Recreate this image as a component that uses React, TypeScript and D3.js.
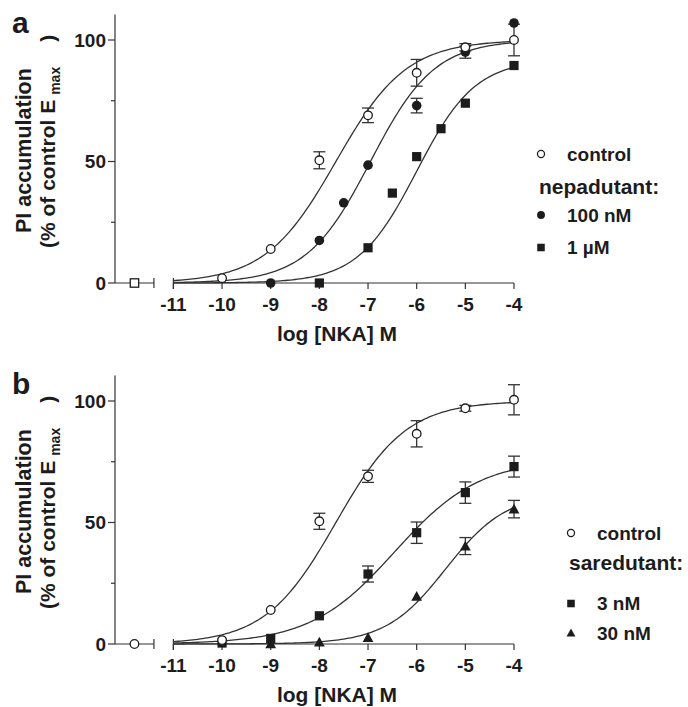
import React from "react";
import * as d3 from "d3";

const W = 688;
const H = 707;
const FONT = "'Liberation Sans', Arial, Helvetica, sans-serif";
const INK = "#1c1c1c";
const LINE = "#333";

// log [NKA] M
const doses = [-10, -9, -8, -7, -6, -5, -4];
const xTicks = [-11, -10, -9, -8, -7, -6, -5, -4];
const yTicks = [0, 50, 100];
const yMinorTicks = [25, 75];

// panel a : nepadutant
const controlA = [2, 14, 50.5, 69, 86.5, 97, 100];
const controlAErr = [0, 0, 3.5, 3, 5.5, 1.5, 6.5];
const nep100Doses = [-9, -8, -7.5, -7, -6, -5, -4];
const nep100 = [0, 17.5, 33, 48.5, 73, 95, 107];
const nep100Err = [0, 0, 0, 0, 3, 2.5, 0];
const nep1uDoses = [-8, -7, -6.5, -6, -5.5, -5, -4];
const nep1u = [0, 14.5, 37, 52, 63.5, 74, 89.5];

// panel b : saredutant
const controlB = [1.6, 14, 50.5, 69, 86.5, 97, 100.5];
const controlBErr = [0, 0, 3.3, 2.5, 5.4, 1.2, 6.2];
const sare3 = [0.4, 2.3, 11.6, 28.8, 45.8, 62.3, 73];
const sare3Err = [0, 0, 0, 3.3, 4.4, 4.4, 4.3];
const sare30Doses = [-9, -8, -7, -6, -5, -4];
const sare30 = [0, 0.8, 2.6, 19.6, 40.3, 55.5];
const sare30Err = [0, 0, 0, 0, 3.5, 3.6];

// basal (no NKA) response
const basal = 0;

// fitted curves [top, logEC50, hill]
const fitControl = [100, -7.66, 0.6];
const fitNep100 = [100, -6.95, 0.66];
const fitNep1u = [92, -6.0, 0.72];
const fitSare3 = [76, -6.45, 0.5];
const fitSare30 = [62, -5.4, 0.7];

// x positions (in log units) of the basal point and axis break
const basalX = -11.8;
const breakX = [-11.4, -11];

const x = d3.scaleLinear().domain([-12.2, -4]).range([115, 514]);
const y = d3.scaleLinear().domain([0, 100]).range([283, 40]);
const yTop = 110.5;

const hill = (p: number[]) => (lx: number) =>
  p[0] / (1 + Math.pow(10, (p[1] - lx) * p[2]));

const curveX = d3.range(-11, -3.99, 0.05);
const line = d3
  .line<number[]>()
  .x((d) => x(d[0]))
  .y((d) => y(d[1]));

type Shape = "openCircle" | "circle" | "square" | "openSquare" | "triangle";

const Marker = ({ shape, cx, cy, s = 1 }: { shape: Shape; cx: number; cy: number; s?: number }) => {
  if (shape === "openCircle")
    return <circle cx={cx} cy={cy} r={4.3 * s} fill="#fff" stroke={INK} strokeWidth={1.3} />;
  if (shape === "circle") return <circle cx={cx} cy={cy} r={4.8 * s} fill={INK} />;
  if (shape === "square") {
    const h = 4.6 * s;
    return <rect x={cx - h} y={cy - h} width={2 * h} height={2 * h} fill={INK} />;
  }
  if (shape === "openSquare") {
    const h = 4.2 * s;
    return <rect x={cx - h} y={cy - h} width={2 * h} height={2 * h} fill="#fff" stroke={INK} strokeWidth={1.3} />;
  }
  const h = 5.4 * s;
  return <path d={`M${cx},${cy - h}L${cx + h},${cy + h * 0.8}L${cx - h},${cy + h * 0.8}Z`} fill={INK} />;
};

type Series = { xs: number[]; ys: number[]; err?: number[]; shape: Shape; fit: number[] };
type LegendItem = { label: string; shape?: Shape };

const Panel = ({
  dy,
  letter,
  series,
  basalShape,
  legend,
  legendX,
  legendY,
}: {
  dy: number;
  letter: string;
  series: Series[];
  basalShape: Shape;
  legend: LegendItem[];
  legendX: number;
  legendY: number[];
}) => (
  <g transform={`translate(0,${dy})`} fontFamily={FONT} fill={INK}>
    <text x={12} y={33} fontSize={30} fontWeight="bold">
      {letter}
    </text>
    {/* y axis */}
    <line x1={x(-12.2)} x2={x(-12.2)} y1={y(0)} y2={y(yTop)} stroke={LINE} strokeWidth={1.2} />
    {yTicks.map((t) => (
      <g key={t}>
        <line x1={x(-12.2) - 7} x2={x(-12.2)} y1={y(t)} y2={y(t)} stroke={LINE} strokeWidth={1.2} />
        <text x={x(-12.2) - 9} y={y(t)} dy="0.36em" textAnchor="end" fontSize={19} fontWeight="bold">
          {t}
        </text>
      </g>
    ))}
    {yMinorTicks.map((t) => (
      <line key={t} x1={x(-12.2) - 4} x2={x(-12.2)} y1={y(t)} y2={y(t)} stroke={LINE} strokeWidth={1.2} />
    ))}
    <text transform="translate(23,233) rotate(-90)" dy="0.36em" fontSize={21.5} fontWeight="bold">
      PI accumulation
    </text>
    <text transform="translate(47,248) rotate(-90)" dy="0.36em" fontSize={21} fontWeight="bold">
      (% of control E
      <tspan fontSize={14} dx={5} dy={5}>
        max
      </tspan>
      <tspan dx={25} dy={-5}>
        )
      </tspan>
    </text>
    {/* x axis with break */}
    <line x1={x(-12.2)} x2={x(breakX[0])} y1={y(0)} y2={y(0)} stroke={LINE} strokeWidth={1.2} />
    <line x1={x(breakX[0])} x2={x(breakX[0])} y1={y(0) - 5} y2={y(0) + 5} stroke={LINE} strokeWidth={1.2} />
    <line x1={x(breakX[1])} x2={x(-4)} y1={y(0)} y2={y(0)} stroke={LINE} strokeWidth={1.2} />
    <line x1={x(breakX[1])} x2={x(breakX[1])} y1={y(0) - 5} y2={y(0) + 6} stroke={LINE} strokeWidth={1.2} />
    {xTicks.map((t) => (
      <g key={t}>
        <line x1={x(t)} x2={x(t)} y1={y(0)} y2={y(0) + 6} stroke={LINE} strokeWidth={1.2} />
        <text x={x(t)} y={y(0) + 14} dy="0.72em" textAnchor="middle" fontSize={19} fontWeight="bold">
          {t}
        </text>
      </g>
    ))}
    <text x={337} y={333} dy="0.36em" textAnchor="middle" fontSize={21} fontWeight="bold">
      log [NKA] M
    </text>
    {/* fitted curves */}
    {series.map((s, i) => (
      <path
        key={"c" + i}
        d={line(curveX.map((lx) => [lx, hill(s.fit)(lx)])) || ""}
        fill="none"
        stroke={LINE}
        strokeWidth={1.3}
      />
    ))}
    {/* error bars */}
    {series.map((s, i) =>
      s.xs.map((lx, j) => {
        const e = s.err ? s.err[j] : 0;
        if (!e) return null;
        const cx = x(lx);
        return (
          <g key={`e${i}-${j}`} stroke={LINE} strokeWidth={1.3}>
            <line x1={cx} x2={cx} y1={y(s.ys[j] - e)} y2={y(s.ys[j] + e)} />
            <line x1={cx - 6} x2={cx + 6} y1={y(s.ys[j] - e)} y2={y(s.ys[j] - e)} />
            <line x1={cx - 6} x2={cx + 6} y1={y(s.ys[j] + e)} y2={y(s.ys[j] + e)} />
          </g>
        );
      })
    )}
    {/* points */}
    {series
      .slice()
      .reverse()
      .map((s, i) =>
        s.xs.map((lx, j) => <Marker key={`p${i}-${j}`} shape={s.shape} cx={x(lx)} cy={y(s.ys[j])} />)
      )}
    <Marker shape={basalShape} cx={x(basalX)} cy={y(basal)} />
    {/* legend */}
    {legend.map((it, i) =>
      it.shape ? (
        <g key={it.label}>
          <Marker shape={it.shape} cx={legendX + 2} cy={legendY[i]} s={0.82} />
          <text x={legendX + 28} y={legendY[i]} dy="0.36em" fontSize={19} fontWeight="bold">
            {it.label}
          </text>
        </g>
      ) : (
        <text key={it.label} x={legendX} y={legendY[i]} dy="0.36em" fontSize={21} fontWeight="bold">
          {it.label}
        </text>
      )
    )}
  </g>
);

export default function App() {
  return (
    <svg width={W} height={H} style={{ position: "absolute", left: 0, top: 0, background: "#fff" }}>
      <Panel
        dy={0}
        letter="a"
        basalShape="openSquare"
        series={[
          { xs: doses, ys: controlA, err: controlAErr, shape: "openCircle", fit: fitControl },
          { xs: nep100Doses, ys: nep100, err: nep100Err, shape: "circle", fit: fitNep100 },
          { xs: nep1uDoses, ys: nep1u, shape: "square", fit: fitNep1u },
        ]}
        legend={[
          { label: "control", shape: "openCircle" },
          { label: "nepadutant:" },
          { label: "100 nM", shape: "circle" },
          { label: "1 µM", shape: "square" },
        ]}
        legendX={539}
        legendY={[154, 186, 215, 247.5]}
      />
      <Panel
        dy={361}
        letter="b"
        basalShape="openCircle"
        series={[
          { xs: doses, ys: controlB, err: controlBErr, shape: "openCircle", fit: fitControl },
          { xs: doses, ys: sare3, err: sare3Err, shape: "square", fit: fitSare3 },
          { xs: sare30Doses, ys: sare30, err: sare30Err, shape: "triangle", fit: fitSare30 },
        ]}
        legend={[
          { label: "control", shape: "openCircle" },
          { label: "saredutant:" },
          { label: "3 nM", shape: "square" },
          { label: "30 nM", shape: "triangle" },
        ]}
        legendX={569}
        legendY={[533 - 361, 562 - 361, 603.5 - 361, 633 - 361]}
      />
    </svg>
  );
}
